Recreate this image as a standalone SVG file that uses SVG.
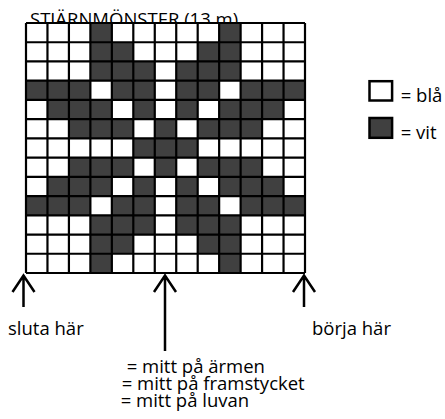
<svg xmlns="http://www.w3.org/2000/svg" width="445" height="419" viewBox="0 0 445 419">
<style>
  .t { font-family: "Open Sans", "Liberation Sans", sans-serif; font-size: 18.5px; fill: #000; }
  .d { fill: #404040; }
  .gl { fill: none; stroke: #000; stroke-width: 2.2; }
  .arr { fill: none; stroke: #000; stroke-width: 2.5; }
</style>
<rect width="445" height="419" fill="#fff"/>
<g id="title">
  <text class="t" x="30" y="25.5">STJÄRNMÖNSTER (13 m)</text>
</g>
<g id="grid">
  <rect x="26" y="23" width="279" height="250" fill="#fff"/>
  <g id="dark-cells">
    <rect class="d" x="90.38" y="23" width="21.46" height="19.23"/>
    <rect class="d" x="219.15" y="23" width="21.46" height="19.23"/>
    <rect class="d" x="90.38" y="42.23" width="42.92" height="19.23"/>
    <rect class="d" x="197.69" y="42.23" width="42.92" height="19.23"/>
    <rect class="d" x="90.38" y="61.46" width="64.38" height="19.23"/>
    <rect class="d" x="176.23" y="61.46" width="64.38" height="19.23"/>
    <rect class="d" x="26" y="80.69" width="64.38" height="19.23"/>
    <rect class="d" x="111.85" y="80.69" width="42.92" height="19.23"/>
    <rect class="d" x="176.23" y="80.69" width="42.92" height="19.23"/>
    <rect class="d" x="240.62" y="80.69" width="64.38" height="19.23"/>
    <rect class="d" x="47.46" y="99.92" width="64.38" height="19.23"/>
    <rect class="d" x="133.31" y="99.92" width="21.46" height="19.23"/>
    <rect class="d" x="176.23" y="99.92" width="21.46" height="19.23"/>
    <rect class="d" x="219.15" y="99.92" width="64.38" height="19.23"/>
    <rect class="d" x="68.92" y="119.15" width="64.38" height="19.23"/>
    <rect class="d" x="154.77" y="119.15" width="21.46" height="19.23"/>
    <rect class="d" x="197.69" y="119.15" width="64.38" height="19.23"/>
    <rect class="d" x="133.31" y="138.38" width="64.38" height="19.23"/>
    <rect class="d" x="68.92" y="157.62" width="64.38" height="19.23"/>
    <rect class="d" x="154.77" y="157.62" width="21.46" height="19.23"/>
    <rect class="d" x="197.69" y="157.62" width="64.38" height="19.23"/>
    <rect class="d" x="47.46" y="176.85" width="64.38" height="19.23"/>
    <rect class="d" x="133.31" y="176.85" width="21.46" height="19.23"/>
    <rect class="d" x="176.23" y="176.85" width="21.46" height="19.23"/>
    <rect class="d" x="219.15" y="176.85" width="64.38" height="19.23"/>
    <rect class="d" x="26" y="196.08" width="64.38" height="19.23"/>
    <rect class="d" x="111.85" y="196.08" width="42.92" height="19.23"/>
    <rect class="d" x="176.23" y="196.08" width="42.92" height="19.23"/>
    <rect class="d" x="240.62" y="196.08" width="64.38" height="19.23"/>
    <rect class="d" x="90.38" y="215.31" width="64.38" height="19.23"/>
    <rect class="d" x="176.23" y="215.31" width="64.38" height="19.23"/>
    <rect class="d" x="90.38" y="234.54" width="42.92" height="19.23"/>
    <rect class="d" x="197.69" y="234.54" width="42.92" height="19.23"/>
    <rect class="d" x="90.38" y="253.77" width="21.46" height="19.23"/>
    <rect class="d" x="219.15" y="253.77" width="21.46" height="19.23"/>
  </g>
  <path class="gl" d="M26 23V273M47.46 23V273M68.92 23V273M90.38 23V273M111.85 23V273M133.31 23V273M154.77 23V273M176.23 23V273M197.69 23V273M219.15 23V273M240.62 23V273M262.08 23V273M283.54 23V273M305 23V273
  M26 23H305M26 42.23H305M26 61.46H305M26 80.69H305M26 99.92H305M26 119.15H305M26 138.38H305M26 157.62H305M26 176.85H305M26 196.08H305M26 215.31H305M26 234.54H305M26 253.77H305M26 273H305"/>
</g>
<g id="legend-bla">
  <rect x="369.5" y="81.2" width="22.6" height="19.3" fill="#fff" stroke="#000" stroke-width="2.5"/>
  <text class="t" x="400.7" y="102">= blå</text>
</g>
<g id="legend-vit">
  <rect x="369.5" y="118" width="22.6" height="19.8" class="d" stroke="#000" stroke-width="2.5"/>
  <text class="t" x="400.7" y="139">= vit</text>
</g>
<g id="connectors">
  <path class="arr" d="M23.5 307V275.5M12.5 292L23.5 275.5L34.5 292"/>
  <path class="arr" d="M165 351V275.5M154 292L165 275.5L176 292"/>
  <path class="arr" d="M304 307V275.5M293 292L304 275.5L315 292"/>
</g>
<g id="label-sluta">
  <text class="t" x="8" y="335">sluta här</text>
</g>
<g id="label-borja">
  <text class="t" x="312" y="335">börja här</text>
</g>
<g id="label-mitt">
  <text class="t" x="126.7" y="373">= mitt på ärmen</text>
  <text class="t" x="121.7" y="390">= mitt på framstycket</text>
  <text class="t" x="120.7" y="407">= mitt på luvan</text>
</g>
</svg>
